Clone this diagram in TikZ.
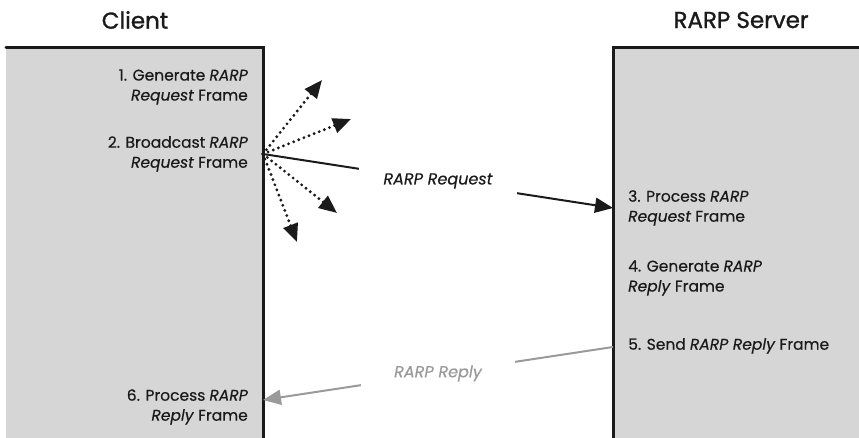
\documentclass[tikz,border=0pt]{standalone}
\usepackage{fontspec}
\setmainfont{Poppins}
\usetikzlibrary{arrows.meta}
\definecolor{boxgrey}{HTML}{D6D6D6}
\definecolor{replygrey}{HTML}{9A9A9A}
\definecolor{inkblack}{HTML}{1A1A1A}
\begin{document}
\begin{tikzpicture}[x=1pt,y=-1pt,
 title/.style={font=\fontsize{23}{26}\selectfont\addfontfeatures{FakeBold=1.2},text=inkblack},
 clientstep/.style={anchor=east,align=right,inner sep=0pt,text=inkblack,
   font=\fontsize{15.5}{20}\selectfont\addfontfeatures{FakeBold=0.5}},
 serverstep/.style={clientstep,anchor=west,align=left},
 rim/.style={line width=3pt,line cap=round,inkblack},
 msg/.style={-{Triangle[length=18pt,width=15pt]},line width=2pt,inkblack},
 bcastmsg/.style={msg,line width=3.2pt,line cap=round,dash pattern=on 0pt off 5.5pt},
 msglabel/.style={fill=white,inner ysep=6pt,font=\itshape\fontsize{16}{20}\selectfont\addfontfeatures{FakeBold=0.4}}]
 \useasboundingbox (0,0) rectangle (859,438);
 % hosts
 \fill[boxgrey] (6,48) rectangle (263,438);
 \draw[rim] (6,48) -- (263,48) -- (263,438);
 \fill[boxgrey] (613,48) rectangle (859,438);
 \draw[rim] (613,438) -- (613,48) -- (859,48);
 \node[title] (client) at (135,20) {Client};
 \node[title] (server) at (741,20) {RARP Server};
 % steps
 \node[clientstep] (s1) at (248,87) {1. Generate \textit{RARP}\\\textit{Request} Frame};
 \node[clientstep] (s2) at (248,154) {2. Broadcast \textit{RARP}\\\textit{Request} Frame};
 \node[serverstep] (s3) at (628,208) {3. Process \textit{RARP}\\\textit{Request} Frame};
 \node[serverstep] (s4) at (628,278) {4. Generate \textit{RARP}\\\textit{Reply} Frame};
 \node[serverstep] (s5) at (628,346) {5. Send \textit{RARP Reply} Frame};
 \node[clientstep] (s6) at (248,407) {6. Process \textit{RARP}\\\textit{Reply} Frame};
 % messages
 \coordinate (bcast) at (263,154);
 \coordinate (srvin) at (613,208);
 \coordinate (srvout) at (613,347);
 \coordinate (cliin) at (263,400);
 \foreach \tip in {(322,80),(351,119),(337,213),(297,242)}
   \draw[bcastmsg] (bcast) -- \tip;
 \draw[msg] (bcast) -- node[msglabel,inner xsep=24pt,text=inkblack] {RARP Request} (srvin);
 \draw[msg,replygrey] (srvout) -- node[msglabel,inner xsep=33pt,text=replygrey] {RARP Reply} (cliin);
\end{tikzpicture}
\end{document}
